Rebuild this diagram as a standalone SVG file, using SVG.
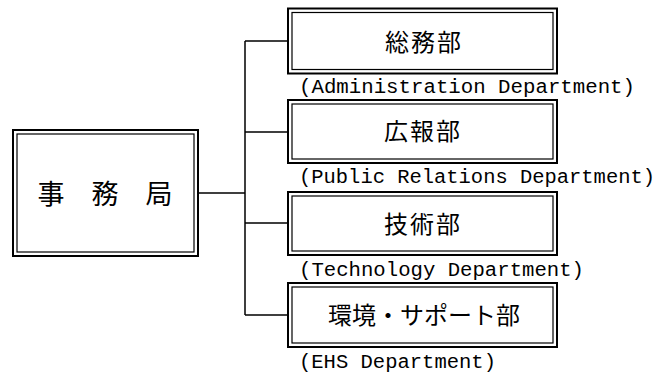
<svg xmlns="http://www.w3.org/2000/svg" width="668" height="376" viewBox="0 0 668 376">
<style>
.outer{fill:#fff;stroke:#000;stroke-width:2}
.inner{fill:none;stroke:#000;stroke-width:1.2}
.ja{font-family:"Noto Sans CJK JP","Noto Sans CJK SC",sans-serif;font-size:24px;fill:#000;text-anchor:middle;letter-spacing:2px}
.big{font-family:"Noto Sans CJK JP","Noto Sans CJK SC",sans-serif;font-size:27px;fill:#000;text-anchor:middle}
.en{font-family:"Liberation Mono","DejaVu Sans Mono",monospace;font-size:20.5px;fill:#000}
.conn{fill:none;stroke:#000;stroke-width:1.5}
</style>
<rect width="668" height="376" fill="#fff"/>
<g id="connectors">
<path class="conn" d="M198,193 H245 M245,41 V315 M245,41 H288 M245,132 H288 M245,223 H288 M245,315 H288"/>
</g>
<g id="jimukyoku">
<rect class="outer" x="13" y="130" width="185" height="126"/>
<rect class="inner" x="17" y="134" width="177" height="118"/>
<text class="big" x="51" y="204">事</text>
<text class="big" x="105" y="204">務</text>
<text class="big" x="159" y="204">局</text>
</g>
<g id="soumu">
<rect class="outer" x="288" y="8.5" width="269" height="65"/>
<rect class="inner" x="292" y="12.5" width="261" height="57"/>
<text class="ja" x="424" y="51">総務部</text>
<text class="en" x="299" y="93" textLength="336" lengthAdjust="spacingAndGlyphs">(Administration Department)</text>
</g>
<g id="kouhou">
<rect class="outer" x="288" y="100" width="269" height="63"/>
<rect class="inner" x="292" y="104" width="261" height="55"/>
<text class="ja" x="423" y="140">広報部</text>
<text class="en" x="299" y="183" textLength="356" lengthAdjust="spacingAndGlyphs">(Public Relations Department)</text>
</g>
<g id="gijutsu">
<rect class="outer" x="288" y="192" width="269" height="63"/>
<rect class="inner" x="292" y="196" width="261" height="55"/>
<text class="ja" x="423" y="233">技術部</text>
<text class="en" x="299" y="276" textLength="285" lengthAdjust="spacingAndGlyphs">(Technology Department)</text>
</g>
<g id="kankyou">
<rect class="outer" x="288" y="283" width="269" height="64"/>
<rect class="inner" x="292" y="287" width="261" height="56"/>
<text class="ja" x="424" y="324" style="letter-spacing:0">環境・サポート部</text>
<text class="en" x="299" y="368" textLength="197" lengthAdjust="spacingAndGlyphs">(EHS Department)</text>
</g>
</svg>
